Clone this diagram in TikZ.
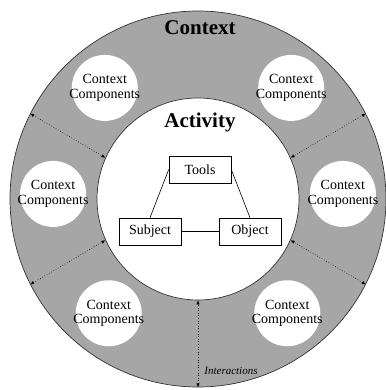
\documentclass[tikz,border=0pt]{standalone}
\usepackage{fontspec}
\setmainfont{Liberation Serif}
\usetikzlibrary{arrows.meta,positioning}

\tikzset{
  ring/.style={circle,draw=black!80,line width=0.7pt,inner sep=0pt},
  comp/.style={circle,fill=white,minimum size=66pt,inner sep=0pt},
  box/.style={draw,line width=0.6pt,minimum width=62pt,minimum height=27pt,inner sep=0pt,font=\fontsize{14}{15}\selectfont},
  link/.style={line width=0.6pt},
  inter/.style={dotted,line width=0.6pt,{Latex[length=4pt,width=3.5pt]}-{Latex[length=4pt,width=3.5pt]}}
}

\begin{document}
\begin{tikzpicture}[x=1pt,y=1pt]
  \useasboundingbox (-198,-191) rectangle (187,199); % 画像の範囲
  \node[ring,fill=black!35,minimum size=376pt] (ctx) at (0,0) {}; % 外側の円（Context）
  \node[ring,fill=white,minimum size=202pt] (act) at (0,0) {}; % 内側の円（Activity）
  \node[font=\fontsize{21}{22}\selectfont\bfseries] (ctxlbl) at (2,171) {Context}; % 外円の見出し
  \node[font=\fontsize{21}{22}\selectfont\bfseries] (actlbl) at (2,77) {Activity}; % 内円の見出し
  \foreach \a/\n in {50/1,130/2,178/3,2/4,-128/5,-52/6}
    \node[comp,label={[align=center,font=\fontsize{14}{14.5}\selectfont]center:Context\\Components}] (cc\n) at (\a:145) {}; % 文脈の構成要素
  \node[box] (tools) at (2,29.5) {Tools}; % 道具
  \node[box] (subj) at (-48,-32.5) {Subject}; % 主体
  \node[box] (obj) at (52,-32.5) {Object}; % 対象
  \draw[link] (subj.east) -- (obj.west); % 主体と対象
  \draw[link] (subj.north) -- (tools.west); % 主体と道具
  \draw[link] (obj.north) -- (tools.east); % 対象と道具
  \foreach \a/\b in {153/156,27/24,-153/-156,-27/-24,-90/-90}
    \draw[inter] (ctx.\a) -- (act.\b); % 相互作用の矢印
  \node[font=\fontsize{11}{12}\selectfont\itshape] (interlbl) at (33,-172) {Interactions}; % 矢印の説明
\end{tikzpicture}
\end{document}
